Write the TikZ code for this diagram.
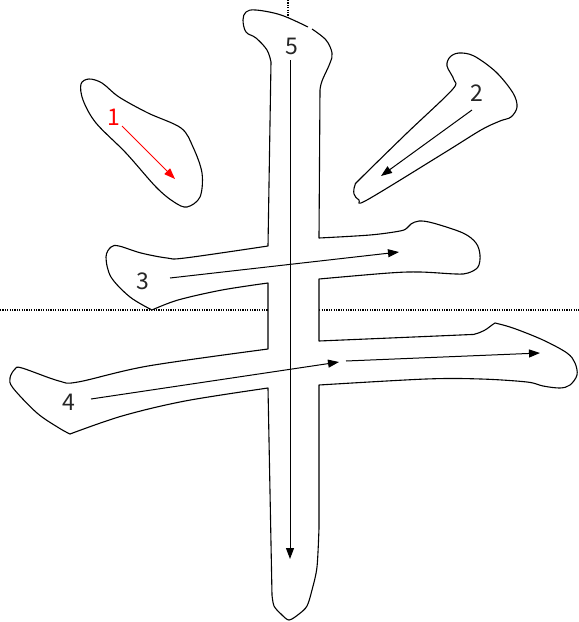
\documentclass[tikz,border=0pt]{standalone}
\usepackage{fontspec}
\newfontfamily\lblfont{Noto Sans CJK JP}
\usetikzlibrary{arrows.meta}
\begin{document}
\begin{tikzpicture}[x=1pt,y=-1pt,
  guide/.style={line width=1.2pt,dash pattern=on 1.2pt off 1.2pt},
  outline/.style={draw=black,line width=1.1pt,fill=white,line join=round},
  order/.style={line width=1pt,-{Triangle[length=11pt,width=8pt]}},
  lbl/.style={font=\lblfont\fontsize{23}{23}\selectfont,text=black!85,inner sep=0pt}]
\useasboundingbox (0,0) rectangle (579,622);
% guide lines
\draw[guide] (288,0) -- (288,20);
\draw[guide] (0,310) -- (579,310);
% stroke 1
\draw[outline] plot[smooth cycle,tension=0.55] coordinates {(81,84) (89,79) (102,83) (119,97) (148,113) (181,128) (193,147) (202,173) (200,197) (187,207) (174,202) (156,187) (126,153) (96,123) (83,100)};
% stroke 2
\draw[outline] plot[smooth cycle,tension=0.55] coordinates {(447,66) (450,57) (459,53) (474,56) (496,72) (513,93) (517,107) (511,117) (500,121) (481,130) (444,153) (367,200) (359,200) (354,194) (355,185) (361,178) (407,133) (452,90) (454,80)};
% strokes 3,4,5 (one outline)
\draw[outline]
  plot[smooth,tension=0.6] coordinates {(312,29) (326,40) (332,53) (330,63) (322,81) (320,90)}
  -- (319,238)
  -- plot[smooth,tension=0.55] coordinates {(319,238) (370,235) (400,231) (407,228) (411,224) (419,221) (433,223) (463,233) (476,243) (480,255) (478,267) (468,273) (456,274) (420,272) (389,273) (319,279)}
  -- (319,341)
  -- plot[smooth,tension=0.5] coordinates {(319,341) (460,335) (475,334) (485,330) (492,325) (495,323)}
  -- plot[smooth,tension=0.55] coordinates {(495,323) (513,328) (543,340) (567,353) (575,363) (577,375) (570,385) (560,388) (543,386) (527,382) (481,379) (426,379) (319,385)}
  -- (319,528)
  -- plot[smooth,tension=0.5] coordinates {(319,528) (317,567) (312,590) (307,606) (299,614) (289,620) (281,614) (274,606) (272,595)}
  -- (268,388)
  -- plot[smooth,tension=0.55] coordinates {(268,388) (185,401) (122,416) (70,434)}
  -- plot[smooth,tension=0.55] coordinates {(70,434) (59,428) (37,413) (13,388) (10,378) (15,369) (22,368) (59,381) (78,382) (148,366) (268,349)}
  -- (268,283)
  -- plot[smooth,tension=0.55] coordinates {(268,283) (222,290) (178,300) (152,310)}
  -- plot[smooth,tension=0.55] coordinates {(152,310) (130,297) (111,277) (106,257) (111,247) (119,246) (141,253) (167,258) (185,258) (268,246)}
  -- (271,62)
  -- plot[smooth,tension=0.6] coordinates {(271,62) (267,50) (256,38) (246,32) (243,20) (246,12) (256,10) (281,15) (308,27)};
% labels
\node[lbl,text=red] (n1) at (114,117) {1};
\node[lbl] (n2) at (477,93) {2};
\node[lbl] (n3) at (143,281) {3};
\node[lbl] (n4) at (69,402) {4};
\node[lbl] (n5) at (292,46) {5};
% arrow end points
\coordinate (a1s) at (122,126); \coordinate (a1e) at (175,179);
\coordinate (a2s) at (472,110); \coordinate (a2e) at (381,176);
\coordinate (a3s) at (170,278); \coordinate (a3e) at (399,252);
\coordinate (a4s) at (91,399);  \coordinate (a4m) at (339,362);
\coordinate (a4n) at (346,361); \coordinate (a4e) at (540,353);
\coordinate (a5s) at (290,60);  \coordinate (a5e) at (290,559);
\draw[order,red] (a1s) -- (a1e);
\draw[order] (a2s) -- (a2e);
\draw[order] (a3s) -- (a3e);
\draw[order] (a4s) -- (a4m);
\draw[order] (a4n) -- (a4e);
\draw[order] (a5s) -- (a5e);
\end{tikzpicture}
\end{document}
